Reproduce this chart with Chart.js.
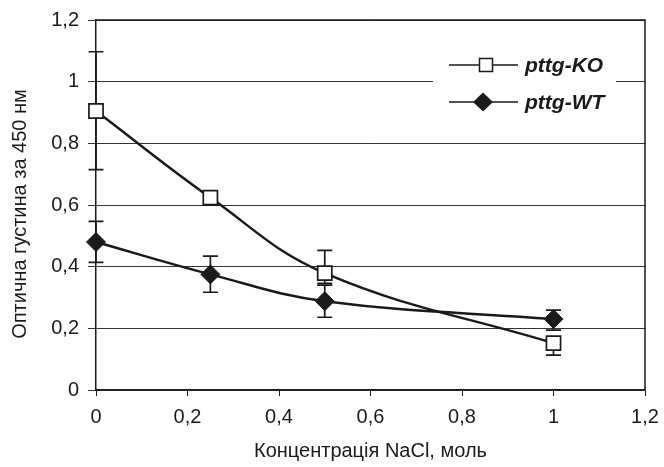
<!DOCTYPE html>
<html>
<head>
<meta charset="utf-8">
<script src="https://cdn.jsdelivr.net/npm/chart.js@4/dist/chart.umd.min.js"></script>
<style>
html,body{margin:0;padding:0;background:#fff;}
#wrap{width:664px;height:467px;}
</style>
</head>
<body>
<div id="wrap"><canvas id="c" width="664" height="467"></canvas></div>
<script>
const concentrations = [0, 0.25, 0.5, 1];
const koValues = [0.905, 0.624, 0.379, 0.152];
const koErrHigh = [1.097, 0.644, 0.453, 0.172];
const koErrLow = [0.715, 0.600, 0.346, 0.113];
const wtValues = [0.480, 0.375, 0.288, 0.230];
const wtErrHigh = [0.547, 0.434, 0.340, 0.259];
const wtErrLow = [0.414, 0.317, 0.236, 0.194];
const xTickLabels = ['0', '0,2', '0,4', '0,6', '0,8', '1', '1,2'];
const yTickLabels = ['0', '0,2', '0,4', '0,6', '0,8', '1', '1,2'];
const seriesNames = ['pttg-KO', 'pttg-WT'];
const xTitle = 'Концентрація NaCl, моль';
const yTitle = 'Оптична густина за 450 нм';

const FONT = "'Liberation Sans', Arial, sans-serif";
const INK = '#1a1a1a';

function pts(vals){ return concentrations.map((x,i)=>({x:x,y:vals[i]})); }

const errorBars = {
  id: 'errorBars',
  beforeDatasetsDraw(chart){
    const ctx = chart.ctx, xs = chart.scales.x, ys = chart.scales.y;
    const sets = [[koErrLow, koErrHigh],[wtErrLow, wtErrHigh]];
    ctx.save();
    ctx.strokeStyle = INK; ctx.lineWidth = 1.7;
    sets.forEach(([lo, hi])=>{
      concentrations.forEach((x,i)=>{
        const px = xs.getPixelForValue(x);
        const y1 = ys.getPixelForValue(lo[i]), y2 = ys.getPixelForValue(hi[i]);
        ctx.beginPath();
        ctx.moveTo(px, y1); ctx.lineTo(px, y2);
        ctx.moveTo(px-7.5, y1); ctx.lineTo(px+7.5, y1);
        ctx.moveTo(px-7.5, y2); ctx.lineTo(px+7.5, y2);
        ctx.stroke();
      });
    });
    ctx.restore();
  }
};

const frame = {
  id: 'frame',
  beforeDatasetsDraw(chart){
    const a = chart.chartArea, ctx = chart.ctx;
    ctx.save();
    ctx.strokeStyle = INK; ctx.lineWidth = 1.5;
    ctx.beginPath();
    ctx.moveTo(a.left, a.top); ctx.lineTo(a.right, a.top); ctx.lineTo(a.right, a.bottom);
    ctx.stroke();
    ctx.restore();
  }
};

const yTitlePlugin = {
  id: 'yTitlePlugin',
  afterDraw(chart){
    const ctx = chart.ctx;
    ctx.save();
    ctx.translate(20, 214);
    ctx.rotate(-Math.PI/2);
    ctx.fillStyle = INK;
    ctx.font = "20px " + FONT;
    ctx.textAlign = 'center';
    ctx.textBaseline = 'middle';
    ctx.fillText(yTitle, 0, 0);
    ctx.restore();
  }
};

const legendBox = {
  id: 'legendBox',
  afterDraw(chart){
    const ctx = chart.ctx;
    ctx.save();
    ctx.fillStyle = '#fff';
    ctx.fillRect(433, 40, 183, 95);
    const rows = [65, 102];
    rows.forEach((y, k)=>{
      ctx.strokeStyle = INK; ctx.lineWidth = 1.5;
      ctx.beginPath(); ctx.moveTo(449, y); ctx.lineTo(518, y); ctx.stroke();
      const cx = k === 0 ? 486 : 483;
      if (k === 0){
        ctx.fillStyle = '#fff';
        ctx.fillRect(cx-6.5, y-6.5, 13, 13);
        ctx.strokeRect(cx-6.5, y-6.5, 13, 13);
      } else {
        ctx.fillStyle = INK;
        ctx.beginPath();
        ctx.moveTo(cx, y-9.5); ctx.lineTo(cx+10, y); ctx.lineTo(cx, y+9.5); ctx.lineTo(cx-10, y);
        ctx.closePath(); ctx.fill();
      }
      ctx.fillStyle = INK;
      ctx.font = "italic bold 21px " + FONT;
      ctx.textBaseline = 'middle';
      ctx.textAlign = 'left';
      ctx.fillText(seriesNames[k], 525, y+1);
    });
    ctx.restore();
  }
};

new Chart(document.getElementById('c'), {
  type: 'line',
  data: {
    datasets: [
      {
        label: seriesNames[0], data: pts(koValues),
        borderColor: INK, borderWidth: 2.5, backgroundColor: '#fff',
        pointStyle: 'rect', pointRadius: 10, pointBorderWidth: 1.7,
        pointBorderColor: INK, pointBackgroundColor: '#fff',
        tension: 0.4, order: 2, clip: false
      },
      {
        label: seriesNames[1], data: pts(wtValues),
        borderColor: INK, borderWidth: 2.5, backgroundColor: INK,
        pointStyle: 'rectRot', pointRadius: 9.5, pointBorderWidth: 1,
        pointBorderColor: INK, pointBackgroundColor: INK,
        tension: 0.4, order: 1, clip: false
      }
    ]
  },
  options: {
    responsive: false,
    animation: false,
    events: [],
    layout: { padding: { top: 20, right: 0, left: 0, bottom: 0 } },
    plugins: { legend: { display: false }, tooltip: { enabled: false } },
    scales: {
      x: {
        type: 'linear', min: 0, max: 1.2,
        afterFit(s){ s.height = 77; s.paddingRight = 19; s.paddingLeft = 0; },
        ticks: {
          stepSize: 0.2, color: INK, padding: 9,
          font: { family: FONT, size: 20 },
          maxRotation: 0,
          callback: (v, i) => xTickLabels[i]
        },
        grid: { drawOnChartArea: false, drawTicks: true, tickLength: 6, color: INK, lineWidth: 1 },
        border: { display: true, color: INK, width: 1.5 },
        title: { display: true, text: xTitle, color: INK, font: { family: FONT, size: 20 }, padding: { top: 9 } }
      },
      y: {
        type: 'linear', min: 0, max: 1.2,
        afterFit(s){ s.width = 96; s.paddingTop = 0; s.paddingBottom = 0; },
        ticks: {
          stepSize: 0.2, color: INK, padding: 9,
          font: { family: FONT, size: 20 },
          callback: (v, i) => yTickLabels[i]
        },
        grid: { drawOnChartArea: true, drawTicks: true, tickLength: 8, color: '#333', lineWidth: 1 },
        border: { display: true, color: INK, width: 1.5 },
        title: { display: false, text: yTitle }
      }
    }
  },
  plugins: [frame, errorBars, legendBox, yTitlePlugin]
});
</script>
</body>
</html>
